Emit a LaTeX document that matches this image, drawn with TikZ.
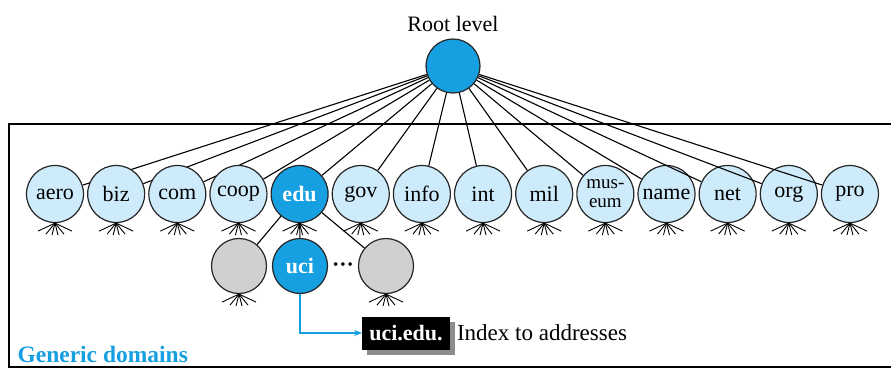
\documentclass[tikz,border=0pt]{standalone}
\usepackage{fontspec}
\setmainfont{Liberation Serif}
\usetikzlibrary{arrows.meta,positioning,shadows}

\definecolor{dnsblue}{RGB}{22,160,226}
\definecolor{dnslight}{RGB}{205,235,250}
\definecolor{dnsgray}{RGB}{208,208,210}

\tikzset{
  dom/.style={circle,draw=black!85,line width=1.2pt,fill=dnslight,minimum size=57pt,
    inner sep=0pt,font=\fontsize{22}{22}\selectfont},
  twoline/.style={dom,align=center,font=\fontsize{19}{19}\selectfont},
  hot/.style={dom,fill=dnsblue,text=white,font=\fontsize{22}{22}\selectfont\bfseries},
  blank/.style={dom,fill=dnsgray},
  link/.style={line width=1.1pt},
  leg/.style={line width=0.9pt},
}

% little fan of lines under a node
\newcommand{\legs}[1]{%
  \foreach \dx/\dy in {-17/8,-9/11,-3/12,3/12,9/11,17/8}
    \draw[leg] (#1.south) -- ++(\dx,\dy);}

\begin{document}
\begin{tikzpicture}[x=1pt,y=-1pt]
\useasboundingbox (0,0) rectangle (891,369);
\draw[line width=1.2pt] (891,124) -- (9,124) -- (9,367) -- (891,367);

\node (rootlab) at (453,24) {\fontsize{22}{22}\selectfont Root level};
\node[dom,fill=dnsblue,minimum size=54pt] (root) at (453,66) {};

\foreach \nm/\lab/\sty [count=\i from 0] in {aero/aero/dom,biz/biz/dom,com/com/dom,
  coop/coop/dom,edu/edu/hot,gov/gov/dom,info/info/dom,int/int/dom,mil/mil/dom,
  museum/{mus-\\eum}/twoline,name/name/dom,net/net/dom,org/org/dom,pro/pro/dom}
{
  \node[\sty] (\nm) at ({55+61.15*\i},194) {\lab};
  \draw[link] (root) -- (\nm);
  \legs{\nm}
}

\node[blank,minimum size=55pt] (left) at (239,266) {};
\node[hot,minimum size=55pt] (uci) at (300,266) {uci};
\node[blank,minimum size=55pt] (right) at (386,266) {};
\node (dots) at (343,266) {\fontsize{15}{15}\selectfont\textbullet\hspace{2pt}\textbullet\hspace{2pt}\textbullet};
\draw[link] (edu) -- (left);
\draw[link] (edu) -- (uci);
\draw[link] (edu) -- (right);
\legs{left}
\legs{right}

\node[fill=black,text=white,font=\fontsize{22}{22}\selectfont\bfseries,
  minimum height=33pt,inner xsep=7pt,
  drop shadow={shadow xshift=5pt,shadow yshift=-5pt,fill=black!45,opacity=1}]
  (ucibox) at (406,333) {uci.edu.};
\draw[dnsblue,line width=1.2pt,-{Stealth[length=8pt]}] (uci.south) |- (ucibox.west);
\node[right=5pt of ucibox,inner sep=2pt,font=\fontsize{23}{23}\selectfont]
  (index) {Index to addresses};

\node[anchor=west,text=dnsblue,font=\fontsize{23.5}{23.5}\selectfont\bfseries]
  (generic) at (14,354) {Generic domains};
\end{tikzpicture}
\end{document}
